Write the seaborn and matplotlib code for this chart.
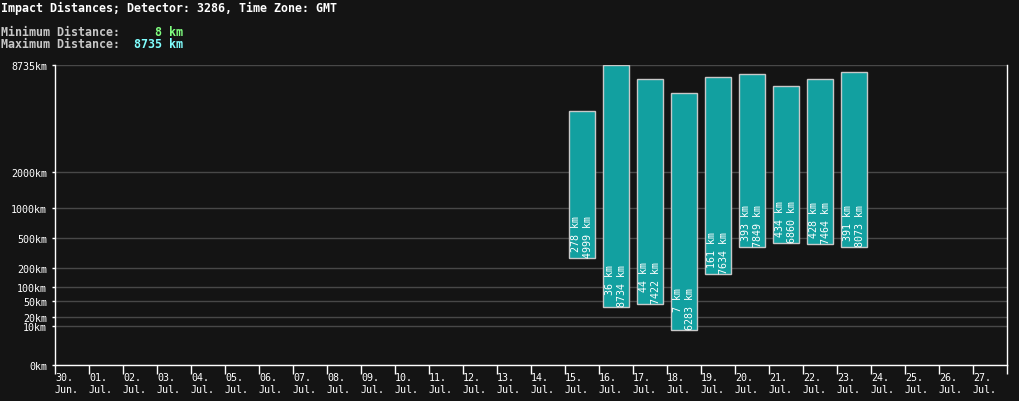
import numpy as np
import pandas as pd
import matplotlib
matplotlib.use("Agg")
import matplotlib.pyplot as plt
import matplotlib.transforms as mtransforms
import seaborn as sns

# category axis (one slot per day)
days = ["30.\nJun.", "01.\nJul.", "02.\nJul.", "03.\nJul.", "04.\nJul.", "05.\nJul.",
        "06.\nJul.", "07.\nJul.", "08.\nJul.", "09.\nJul.", "10.\nJul.", "11.\nJul.",
        "12.\nJul.", "13.\nJul.", "14.\nJul.", "15.\nJul.", "16.\nJul.", "17.\nJul.",
        "18.\nJul.", "19.\nJul.", "20.\nJul.", "21.\nJul.", "22.\nJul.", "23.\nJul.",
        "24.\nJul.", "25.\nJul.", "26.\nJul.", "27.\nJul."]

# days with impacts and their min / max distance (km)
bar_days = ["15.\nJul.", "16.\nJul.", "17.\nJul.", "18.\nJul.", "19.\nJul.",
            "20.\nJul.", "21.\nJul.", "22.\nJul.", "23.\nJul."]
min_km = [278, 36, 44, 7, 161, 393, 434, 428, 391]
max_km = [4999, 8734, 7422, 6283, 7634, 7849, 6860, 7464, 8073]

y_ticks = [0, 10, 20, 50, 100, 200, 500, 1000, 2000, 8735]
overall_min = 8
overall_max = 8735

BG = "#141414"
sns.set_style("dark", {"axes.facecolor": BG, "figure.facecolor": BG})
plt.rcParams["font.family"] = ["DejaVu Sans Mono"]

W, H = 1019, 402
fig = plt.figure(figsize=(W / 100, H / 100), dpi=100)
ax = fig.add_axes([55 / W, 36 / H, 952 / W, 300 / H])

df = pd.DataFrame({"day": bar_days, "span": np.subtract(max_km, min_km)})
sns.barplot(data=df, x="day", y="span", order=days, bottom=min_km,
            color="#12a0a0", saturation=1, width=0.74,
            edgecolor="#c8c8c8", linewidth=1, ax=ax)

# compressed (power) scale for distances
fwd = lambda v: np.power(np.clip(v, 0, None), 0.3)
inv = lambda v: np.power(np.clip(v, 0, None), 1 / 0.3)
ax.set_yscale("function", functions=(fwd, inv))
ax.set_ylim(0, overall_max)
ax.set_xlim(-0.5, len(days) - 0.5)

for d, lo, hi in zip(bar_days, min_km, max_km):
    ax.annotate(f"{lo} km\n{hi} km", xy=(days.index(d), lo), xytext=(0, 0.8),
                textcoords="offset points", rotation=90, ha="center", va="bottom",
                multialignment="right", color="white", fontsize=7.2)

ax.set_yticks(y_ticks)
ax.set_yticklabels([f"{t}km" for t in y_ticks])
ax.set_xticks(np.arange(len(days) + 1) - 0.5)
ax.set_xticklabels(days + [""], ha="left")
shift = mtransforms.ScaledTranslation(4 / 100, 0, fig.dpi_scale_trans)
for lab in ax.get_xticklabels():
    lab.set_transform(lab.get_transform() + shift)

ax.tick_params(axis="x", direction="out", length=6.5, width=1, color="white",
               labelcolor="white", labelsize=7.2, pad=-1.5, bottom=True)
ax.tick_params(axis="y", direction="out", length=2.2, width=1, color="white",
               labelcolor="white", labelsize=7.2, pad=3.6, left=True)
ax.set_xlabel("")
ax.set_ylabel("")

ax.yaxis.grid(True, color="#484848", linewidth=1)
ax.xaxis.grid(False)
ax.set_axisbelow(True)
for side in ["left", "bottom", "right"]:
    ax.spines[side].set_visible(True)
    ax.spines[side].set_color("white")
    ax.spines[side].set_linewidth(1)
ax.spines["top"].set_visible(False)

# header
cw = 7.02
fig.text(1 / W, 1 - 2 / H, "Impact Distances; Detector: 3286, Time Zone: GMT",
         color="white", fontsize=8.4, fontweight="bold", va="top", ha="left")
fig.text(1 / W, 1 - 26 / H, "Minimum Distance:", color="#c8c8c8",
         fontsize=8.4, fontweight="bold", va="top", ha="left")
fig.text(1 / W, 1 - 38 / H, "Maximum Distance:", color="#c8c8c8",
         fontsize=8.4, fontweight="bold", va="top", ha="left")
fig.text((1 + 22 * cw) / W, 1 - 26 / H, f"{overall_min} km", color="#80ff80",
         fontsize=8.4, fontweight="bold", va="top", ha="left")
fig.text((1 + 19 * cw) / W, 1 - 38 / H, f"{overall_max} km", color="#80ffff",
         fontsize=8.4, fontweight="bold", va="top", ha="left")

fig.savefig("out.png", dpi=100, facecolor=BG)
